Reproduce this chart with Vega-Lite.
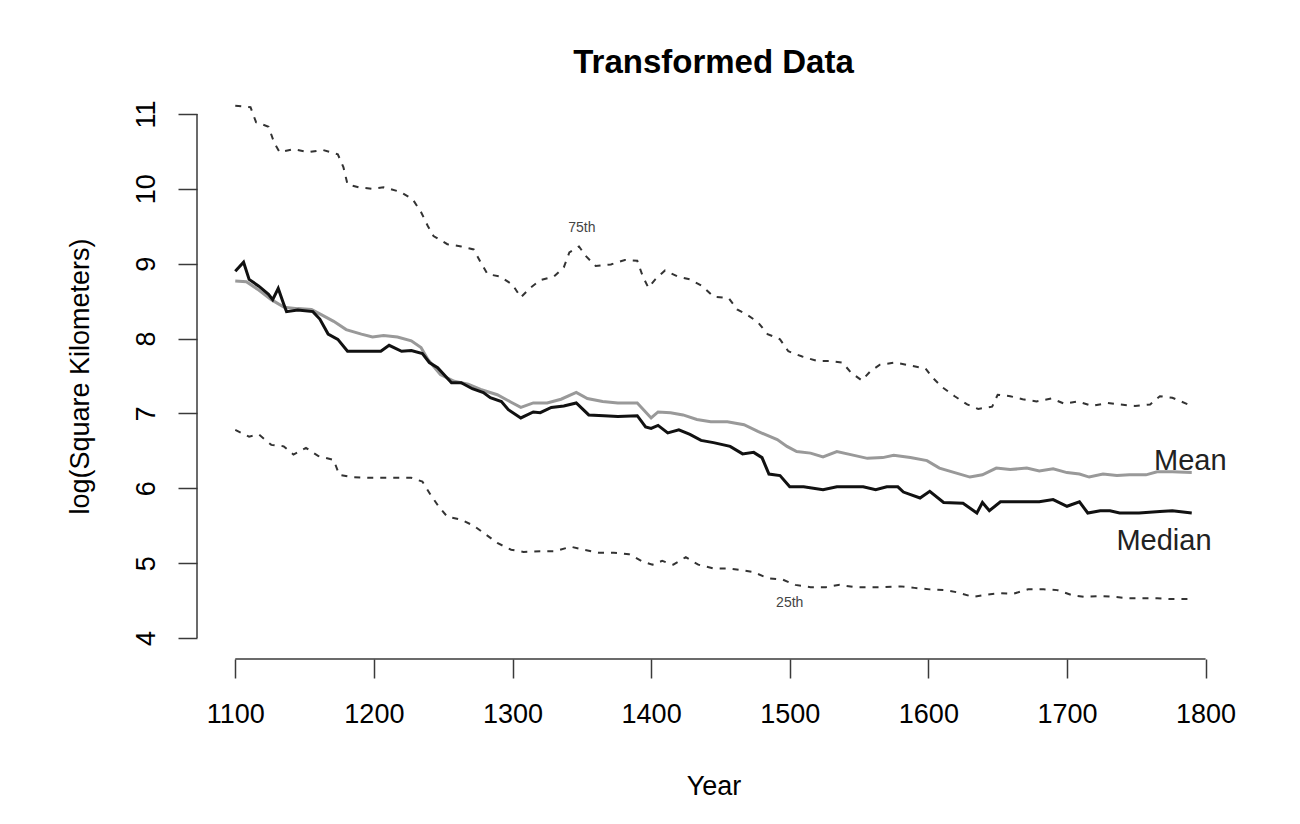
{
  "$schema": "https://vega.github.io/schema/vega-lite/v6.json",
  "autosize": "none",
  "width": 1033,
  "height": 566,
  "padding": {"left": 197, "top": 93, "right": 70, "bottom": 165},
  "background": "white",
  "title": {"text": "Transformed Data", "font": "Liberation Sans", "fontSize": 33, "fontWeight": "bold", "color": "black", "anchor": "middle", "frame": "group", "offset": 13},
  "config": {
    "view": {"stroke": null},
    "axis": {"grid": false, "domain": false, "labelFont": "Liberation Sans", "titleFont": "Liberation Sans", "labelFontSize": 27, "titleFontSize": 27, "titleFontWeight": "normal", "labelColor": "black", "titleColor": "black", "tickColor": "#3a3a3a", "tickWidth": 1.5, "tickSize": 19, "labelFlush": false, "labelOverlap": false}
  },
  "datasets": {
    "q75": [
      {"year":1100,"v":11.11},{"year":1111,"v":11.09},{"year":1115,"v":10.89},{"year":1124,"v":10.83},{"year":1128,"v":10.62},{"year":1132,"v":10.49},{"year":1142,"v":10.53},{"year":1153,"v":10.49},{"year":1163,"v":10.52},{"year":1174,"v":10.46},{"year":1178,"v":10.29},{"year":1181,"v":10.06},{"year":1189,"v":10.02},{"year":1199,"v":10.0},{"year":1207,"v":10.02},{"year":1219,"v":9.96},{"year":1228,"v":9.86},{"year":1234,"v":9.69},{"year":1239,"v":9.5},{"year":1243,"v":9.37},{"year":1253,"v":9.26},{"year":1263,"v":9.23},{"year":1272,"v":9.19},{"year":1277,"v":9.02},{"year":1282,"v":8.86},{"year":1291,"v":8.83},{"year":1300,"v":8.72},{"year":1306,"v":8.55},{"year":1313,"v":8.68},{"year":1320,"v":8.78},{"year":1330,"v":8.83},{"year":1337,"v":8.95},{"year":1341,"v":9.15},{"year":1348,"v":9.23},{"year":1353,"v":9.1},{"year":1360,"v":8.97},{"year":1371,"v":8.99},{"year":1381,"v":9.05},{"year":1390,"v":9.04},{"year":1394,"v":8.83},{"year":1398,"v":8.68},{"year":1403,"v":8.79},{"year":1410,"v":8.91},{"year":1419,"v":8.83},{"year":1428,"v":8.79},{"year":1437,"v":8.7},{"year":1445,"v":8.56},{"year":1456,"v":8.54},{"year":1462,"v":8.39},{"year":1469,"v":8.32},{"year":1477,"v":8.22},{"year":1484,"v":8.06},{"year":1493,"v":7.99},{"year":1499,"v":7.83},{"year":1509,"v":7.76},{"year":1520,"v":7.7},{"year":1529,"v":7.7},{"year":1538,"v":7.68},{"year":1544,"v":7.55},{"year":1552,"v":7.44},{"year":1558,"v":7.56},{"year":1565,"v":7.65},{"year":1576,"v":7.68},{"year":1587,"v":7.64},{"year":1598,"v":7.6},{"year":1603,"v":7.48},{"year":1610,"v":7.35},{"year":1619,"v":7.23},{"year":1628,"v":7.12},{"year":1636,"v":7.06},{"year":1646,"v":7.09},{"year":1650,"v":7.25},{"year":1659,"v":7.23},{"year":1668,"v":7.19},{"year":1678,"v":7.16},{"year":1689,"v":7.2},{"year":1698,"v":7.13},{"year":1708,"v":7.16},{"year":1718,"v":7.1},{"year":1729,"v":7.14},{"year":1738,"v":7.12},{"year":1749,"v":7.1},{"year":1760,"v":7.12},{"year":1767,"v":7.23},{"year":1776,"v":7.21},{"year":1790,"v":7.1}
    ],
    "mean": [
      {"year":1100,"v":8.77},{"year":1108,"v":8.76},{"year":1116,"v":8.66},{"year":1126,"v":8.52},{"year":1135,"v":8.42},{"year":1145,"v":8.4},{"year":1155,"v":8.39},{"year":1162,"v":8.32},{"year":1171,"v":8.23},{"year":1180,"v":8.12},{"year":1191,"v":8.06},{"year":1199,"v":8.02},{"year":1207,"v":8.04},{"year":1217,"v":8.02},{"year":1227,"v":7.97},{"year":1234,"v":7.88},{"year":1239,"v":7.72},{"year":1248,"v":7.52},{"year":1258,"v":7.43},{"year":1268,"v":7.39},{"year":1277,"v":7.32},{"year":1289,"v":7.25},{"year":1299,"v":7.15},{"year":1306,"v":7.08},{"year":1315,"v":7.14},{"year":1325,"v":7.14},{"year":1335,"v":7.19},{"year":1346,"v":7.28},{"year":1354,"v":7.2},{"year":1365,"v":7.16},{"year":1376,"v":7.14},{"year":1390,"v":7.14},{"year":1400,"v":6.94},{"year":1405,"v":7.02},{"year":1414,"v":7.01},{"year":1423,"v":6.98},{"year":1433,"v":6.92},{"year":1443,"v":6.89},{"year":1455,"v":6.89},{"year":1467,"v":6.85},{"year":1477,"v":6.76},{"year":1491,"v":6.65},{"year":1498,"v":6.56},{"year":1505,"v":6.49},{"year":1515,"v":6.47},{"year":1524,"v":6.42},{"year":1534,"v":6.49},{"year":1544,"v":6.45},{"year":1556,"v":6.4},{"year":1567,"v":6.41},{"year":1575,"v":6.44},{"year":1587,"v":6.41},{"year":1599,"v":6.37},{"year":1608,"v":6.27},{"year":1619,"v":6.21},{"year":1630,"v":6.15},{"year":1639,"v":6.18},{"year":1649,"v":6.27},{"year":1659,"v":6.25},{"year":1671,"v":6.27},{"year":1680,"v":6.23},{"year":1690,"v":6.26},{"year":1700,"v":6.21},{"year":1709,"v":6.19},{"year":1716,"v":6.15},{"year":1726,"v":6.19},{"year":1736,"v":6.17},{"year":1745,"v":6.18},{"year":1757,"v":6.18},{"year":1765,"v":6.22},{"year":1776,"v":6.22},{"year":1790,"v":6.21}
    ],
    "median": [
      {"year":1100,"v":8.9},{"year":1106,"v":9.02},{"year":1110,"v":8.79},{"year":1117,"v":8.7},{"year":1124,"v":8.59},{"year":1127,"v":8.52},{"year":1131,"v":8.67},{"year":1135,"v":8.46},{"year":1137,"v":8.36},{"year":1145,"v":8.38},{"year":1156,"v":8.36},{"year":1161,"v":8.26},{"year":1167,"v":8.06},{"year":1174,"v":7.99},{"year":1181,"v":7.83},{"year":1193,"v":7.83},{"year":1205,"v":7.83},{"year":1211,"v":7.91},{"year":1220,"v":7.83},{"year":1227,"v":7.84},{"year":1235,"v":7.8},{"year":1240,"v":7.68},{"year":1246,"v":7.61},{"year":1256,"v":7.41},{"year":1263,"v":7.41},{"year":1271,"v":7.33},{"year":1279,"v":7.28},{"year":1284,"v":7.21},{"year":1292,"v":7.16},{"year":1297,"v":7.05},{"year":1306,"v":6.94},{"year":1315,"v":7.02},{"year":1320,"v":7.01},{"year":1328,"v":7.08},{"year":1337,"v":7.1},{"year":1346,"v":7.14},{"year":1355,"v":6.98},{"year":1366,"v":6.97},{"year":1376,"v":6.96},{"year":1390,"v":6.97},{"year":1396,"v":6.82},{"year":1400,"v":6.8},{"year":1405,"v":6.84},{"year":1412,"v":6.74},{"year":1420,"v":6.78},{"year":1428,"v":6.72},{"year":1436,"v":6.64},{"year":1445,"v":6.61},{"year":1457,"v":6.56},{"year":1466,"v":6.46},{"year":1474,"v":6.48},{"year":1480,"v":6.41},{"year":1485,"v":6.19},{"year":1493,"v":6.17},{"year":1500,"v":6.02},{"year":1510,"v":6.02},{"year":1524,"v":5.98},{"year":1534,"v":6.02},{"year":1553,"v":6.02},{"year":1562,"v":5.98},{"year":1570,"v":6.02},{"year":1578,"v":6.02},{"year":1582,"v":5.95},{"year":1594,"v":5.87},{"year":1601,"v":5.96},{"year":1611,"v":5.81},{"year":1625,"v":5.8},{"year":1635,"v":5.67},{"year":1639,"v":5.81},{"year":1644,"v":5.7},{"year":1652,"v":5.82},{"year":1666,"v":5.82},{"year":1680,"v":5.82},{"year":1690,"v":5.85},{"year":1700,"v":5.76},{"year":1709,"v":5.82},{"year":1715,"v":5.67},{"year":1724,"v":5.7},{"year":1731,"v":5.7},{"year":1738,"v":5.67},{"year":1752,"v":5.67},{"year":1767,"v":5.69},{"year":1776,"v":5.7},{"year":1790,"v":5.67}
    ],
    "q25": [
      {"year":1100,"v":6.78},{"year":1110,"v":6.69},{"year":1117,"v":6.72},{"year":1126,"v":6.58},{"year":1135,"v":6.56},{"year":1142,"v":6.45},{"year":1151,"v":6.54},{"year":1160,"v":6.43},{"year":1171,"v":6.38},{"year":1175,"v":6.18},{"year":1184,"v":6.15},{"year":1196,"v":6.14},{"year":1215,"v":6.14},{"year":1227,"v":6.14},{"year":1235,"v":6.09},{"year":1241,"v":5.91},{"year":1247,"v":5.75},{"year":1253,"v":5.62},{"year":1263,"v":5.58},{"year":1272,"v":5.5},{"year":1281,"v":5.38},{"year":1289,"v":5.27},{"year":1299,"v":5.18},{"year":1308,"v":5.15},{"year":1320,"v":5.16},{"year":1331,"v":5.16},{"year":1342,"v":5.22},{"year":1351,"v":5.18},{"year":1362,"v":5.14},{"year":1373,"v":5.14},{"year":1384,"v":5.12},{"year":1394,"v":5.02},{"year":1401,"v":4.98},{"year":1408,"v":5.03},{"year":1416,"v":4.98},{"year":1425,"v":5.08},{"year":1434,"v":4.98},{"year":1445,"v":4.93},{"year":1455,"v":4.93},{"year":1464,"v":4.91},{"year":1474,"v":4.88},{"year":1484,"v":4.8},{"year":1495,"v":4.78},{"year":1504,"v":4.71},{"year":1515,"v":4.68},{"year":1526,"v":4.68},{"year":1536,"v":4.71},{"year":1547,"v":4.68},{"year":1558,"v":4.68},{"year":1569,"v":4.68},{"year":1580,"v":4.69},{"year":1590,"v":4.67},{"year":1601,"v":4.65},{"year":1612,"v":4.64},{"year":1621,"v":4.61},{"year":1632,"v":4.55},{"year":1642,"v":4.58},{"year":1652,"v":4.6},{"year":1661,"v":4.59},{"year":1672,"v":4.65},{"year":1683,"v":4.65},{"year":1693,"v":4.64},{"year":1704,"v":4.57},{"year":1713,"v":4.55},{"year":1724,"v":4.56},{"year":1734,"v":4.55},{"year":1745,"v":4.53},{"year":1756,"v":4.53},{"year":1765,"v":4.53},{"year":1776,"v":4.52},{"year":1790,"v":4.52}
    ],
    "xAxisLine": [{"year":1100,"v":3.72},{"year":1800,"v":3.72}],
    "yAxisLine": [{"year":1072.4,"v":4},{"year":1072.4,"v":11}],
    "bigLabels": [
      {"year":1789,"v":6.25,"t":"Mean"},
      {"year":1770,"v":5.18,"t":"Median"}
    ],
    "smallLabels": [
      {"year":1350,"v":9.42,"t":"75th"},
      {"year":1500,"v":4.41,"t":"25th"}
    ]
  },
  "encoding": {
    "x": {"field": "year", "type": "quantitative",
      "scale": {"domain": [1072.4, 1817.6], "nice": false, "zero": false},
      "axis": {"values": [1100,1200,1300,1400,1500,1600,1700,1800], "format": "d", "title": "Year", "labelPadding": 23, "labelBaseline": "top", "titlePadding": 46}},
    "y": {"field": "v", "type": "quantitative",
      "scale": {"domain": [3.72, 11.28], "nice": false, "zero": false},
      "axis": {"values": [4,5,6,7,8,9,10,11], "format": "d", "title": "log(Square Kilometers)", "labelAngle": 270, "labelAlign": "center", "labelBaseline": "alphabetic", "labelPadding": 24, "titlePadding": 38}}
  },
  "layer": [
    {"data": {"name": "q75"}, "mark": {"type": "line", "color": "#333333", "strokeWidth": 2, "strokeDash": [6, 7]}},
    {"data": {"name": "q25"}, "mark": {"type": "line", "color": "#333333", "strokeWidth": 2, "strokeDash": [6, 7]}},
    {"data": {"name": "mean"}, "mark": {"type": "line", "color": "#999999", "strokeWidth": 3}},
    {"data": {"name": "median"}, "mark": {"type": "line", "color": "#111111", "strokeWidth": 3}},
    {"data": {"name": "bigLabels"}, "mark": {"type": "text", "font": "Liberation Sans", "fontSize": 29, "align": "center", "baseline": "alphabetic", "color": "#222222"}, "encoding": {"text": {"field": "t"}}},
    {"data": {"name": "smallLabels"}, "mark": {"type": "text", "font": "Liberation Sans", "fontSize": 14, "align": "center", "baseline": "alphabetic", "color": "#444444"}, "encoding": {"text": {"field": "t"}}},
    {"data": {"name": "xAxisLine"}, "mark": {"type": "line", "color": "#3a3a3a", "strokeWidth": 1.5}},
    {"data": {"name": "yAxisLine"}, "mark": {"type": "line", "color": "#3a3a3a", "strokeWidth": 1.5}}
  ]
}
